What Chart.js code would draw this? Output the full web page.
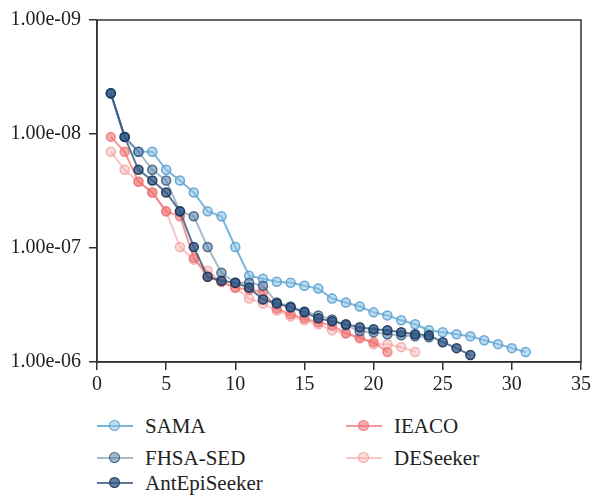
<!DOCTYPE html>
<html>
<head>
<meta charset="utf-8">
<script src="https://cdn.jsdelivr.net/npm/chart.js@4/dist/chart.umd.min.js"></script>
<style>
    body { margin: 0; background: #fff; }
    #wrap { position: relative; width: 594px; height: 498px; font-family: "Liberation Serif", "DejaVu Serif", serif; }
    #chartBox { position: absolute; left: 0; top: 0; width: 594px; height: 400px; }
    .legend-item { position: absolute; height: 24px; display: flex; align-items: center; font-size: 21px; color: #222; white-space: nowrap; }
    .legend-mark { position: relative; width: 36px; height: 24px; margin-right: 12px; }
    .legend-line { position: absolute; left: 0; right: 0; top: 11px; height: 2px; }
    .legend-dot { position: absolute; left: 12px; top: 6px; width: 9px; height: 9px; border-radius: 50%; border: 1.5px solid; }
</style>
</head>
<body>
<div id="wrap">
    <div id="chartBox"><canvas id="pChart" width="594" height="400"></canvas></div>
    <div id="legend"></div>
</div>
<script>
// Valores (p-valores por índice)
const samaValues = [4.40e-9, 1.06e-8, 1.43e-8, 1.43e-8, 2.06e-8, 2.56e-8, 3.26e-8, 4.77e-8, 5.27e-8, 9.80e-8,
    1.75e-7, 1.86e-7, 1.98e-7, 2.02e-7, 2.14e-7, 2.27e-7, 2.78e-7, 3.01e-7, 3.26e-7, 3.67e-7,
    3.90e-7, 4.31e-7, 4.67e-7, 5.27e-7, 5.48e-7, 5.71e-7, 5.94e-7, 6.44e-7, 6.97e-7, 7.56e-7, 8.18e-7];
const fhsaValues = [4.40e-9, 1.06e-8, 1.43e-8, 2.06e-8, 2.56e-8, 4.77e-8, 5.27e-8, 9.80e-8, 1.65e-7, 2.02e-7,
    2.02e-7, 2.14e-7, 3.01e-7, 3.26e-7, 3.60e-7, 3.90e-7, 4.23e-7, 4.77e-7, 5.37e-7, 5.48e-7,
    5.71e-7, 5.82e-7, 5.94e-7, 6.06e-7];
const antEpiValues = [4.40e-9, 1.06e-8, 2.06e-8, 2.56e-8, 3.26e-8, 4.77e-8, 9.80e-8, 1.79e-7, 1.94e-7, 2.02e-7,
    2.23e-7, 2.83e-7, 3.07e-7, 3.32e-7, 3.67e-7, 4.14e-7, 4.40e-7, 4.67e-7, 4.96e-7, 5.16e-7,
    5.27e-7, 5.48e-7, 5.71e-7, 5.82e-7, 6.70e-7, 7.56e-7, 8.69e-7];
const ieacoValues = [1.06e-8, 1.43e-8, 2.62e-8, 3.26e-8, 4.77e-8, 5.27e-8, 1.22e-7, 1.79e-7, 1.98e-7, 2.23e-7,
    2.32e-7, 2.41e-7, 3.39e-7, 3.82e-7, 4.14e-7, 4.49e-7, 4.77e-7, 5.60e-7, 6.18e-7, 6.70e-7, 8.18e-7];
const deSeekerValues = [1.43e-8, 2.06e-8, 2.62e-8, 3.26e-8, 4.77e-8, 9.80e-8, 1.27e-7, 1.58e-7, 1.98e-7, 2.23e-7,
    2.78e-7, 3.07e-7, 3.53e-7, 3.98e-7, 4.31e-7, 4.67e-7, 5.27e-7, 5.60e-7, 6.06e-7, 6.97e-7,
    6.97e-7, 7.41e-7, 8.18e-7];

const yTicks = [1e-9, 1e-8, 1e-7, 1e-6];
const xMin = 0;
const xMax = 35;
const xStep = 5;

// Convertir lista en puntos {x, y} con x = 1..n
function toPoints(values) {
    return values.map((v, i) => ({ x: i + 1, y: v }));
}

// Formato tipo 1.00e-09
function formatExp(value) {
    const exp = Math.round(Math.log10(value));
    const mant = value / Math.pow(10, exp);
    const sign = exp < 0 ? '-' : '+';
    return mant.toFixed(2) + 'e' + sign + String(Math.abs(exp)).padStart(2, '0');
}

const series = [
    { label: 'SAMA', values: samaValues, line: 'rgba(100,170,214,0.85)', fill: 'rgba(135,192,228,0.55)', border: 'rgba(85,155,205,0.85)', order: 4, col: 0, row: 0 },
    { label: 'FHSA-SED', values: fhsaValues, line: 'rgba(80,115,150,0.5)', fill: 'rgba(95,135,175,0.6)', border: 'rgba(45,80,120,0.8)', order: 1, col: 0, row: 1 },
    { label: 'AntEpiSeeker', values: antEpiValues, line: 'rgba(40,75,115,0.75)', fill: 'rgba(50,90,135,0.78)', border: 'rgba(25,50,85,0.9)', order: 0, col: 0, row: 2 },
    { label: 'IEACO', values: ieacoValues, line: 'rgba(240,110,110,0.7)', fill: 'rgba(240,115,115,0.6)', border: 'rgba(235,110,110,0.7)', order: 2, col: 1, row: 0 },
    { label: 'DESeeker', values: deSeekerValues, line: 'rgba(245,150,150,0.55)', fill: 'rgba(248,175,175,0.45)', border: 'rgba(240,135,135,0.6)', order: 3, col: 1, row: 1 }
];

// Marco completo alrededor del área de la gráfica
const frameBox = {
    id: 'frameBox',
    afterDraw(chart) {
        const { ctx, chartArea: a } = chart;
        ctx.save();
        ctx.strokeStyle = '#333';
        ctx.lineWidth = 1.5;
        ctx.strokeRect(a.left, a.top, a.right - a.left, a.bottom - a.top);
        ctx.restore();
    }
};

const tickFont = { family: '"Liberation Serif", "DejaVu Serif", serif', size: 20 };

new Chart(document.getElementById('pChart').getContext('2d'), {
    type: 'line',
    data: {
        datasets: series.map(s => ({
            label: s.label,
            data: toPoints(s.values),
            borderColor: s.line,
            borderWidth: 2,
            pointRadius: 4.5,
            pointBorderWidth: 1.5,
            pointBackgroundColor: s.fill,
            pointBorderColor: s.border,
            fill: false,
            tension: 0,
            order: s.order
        }))
    },
    options: {
        responsive: false,
        animation: false,
        layout: { padding: { top: 16, right: 10, left: 0, bottom: 0 } },
        plugins: { legend: { display: false }, tooltip: { enabled: false } },
        scales: {
            x: {
                type: 'linear',
                min: xMin,
                max: xMax,
                ticks: { stepSize: xStep, color: '#222', font: tickFont, padding: 3 },
                grid: { drawOnChartArea: false, drawTicks: true, tickLength: 8, color: '#333', lineWidth: 1.5 },
                border: { display: true, color: '#333', width: 1.5 },
                afterFit: scale => { scale.height = 38; }
            },
            y: {
                type: 'logarithmic',
                reverse: true,
                min: yTicks[0],
                max: yTicks[yTicks.length - 1],
                afterBuildTicks: axis => { axis.ticks = yTicks.map(v => ({ value: v })); },
                ticks: { color: '#222', font: tickFont, padding: 8, callback: v => formatExp(v) },
                grid: { drawOnChartArea: false, drawTicks: true, tickLength: 8, color: '#333', lineWidth: 1.5 },
                border: { display: true, color: '#333', width: 1.5 },
                afterFit: scale => { scale.width = 97; }
            }
        }
    },
    plugins: [frameBox]
});

// Leyenda en dos columnas
const legendEl = document.getElementById('legend');
const colLeft = [97, 346];
const rowTop = [414, 446, 471];
series.forEach(s => {
    const item = document.createElement('div');
    item.className = 'legend-item';
    item.style.left = colLeft[s.col] + 'px';
    item.style.top = rowTop[s.row] + 'px';
    item.innerHTML = '<span class="legend-mark"><span class="legend-line" style="background:' + s.line + '"></span>' +
        '<span class="legend-dot" style="background:' + s.fill + ';border-color:' + s.border + '"></span></span>' +
        '<span>' + s.label + '</span>';
    legendEl.appendChild(item);
});
</script>
</body>
</html>
